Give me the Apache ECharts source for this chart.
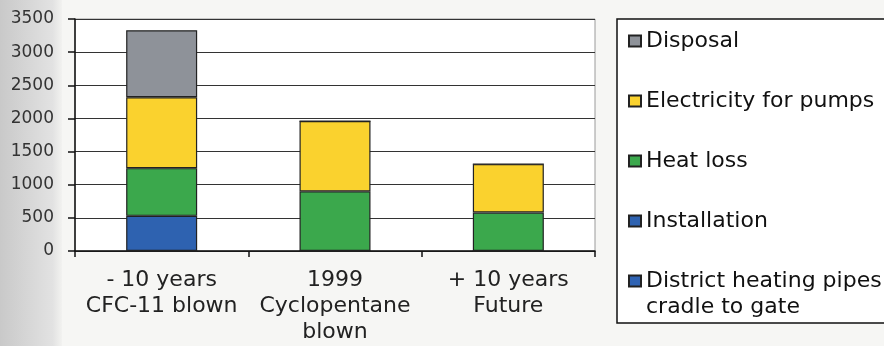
<!DOCTYPE html>
<html>
<head>
<meta charset="utf-8">
<script src="https://cdn.jsdelivr.net/npm/echarts@6/dist/echarts.min.js"></script>
<style>
  html, body { margin: 0; padding: 0; background: #f6f6f4; }
  #chart { width: 884px; height: 346px; }
</style>
</head>
<body>
<div id="chart"></div>
<script>
// Life-cycle energy of district heating pipes, by period and insulation foam
const categories = ['- 10 years\nCFC-11 blown', '1999\nCyclopentane\nblown', '+ 10 years\nFuture'];

const pipesCradleToGate = [0, 0, 0];
const installation      = [530, 0, 0];
const heatLoss          = [720, 900, 580];
const electricity       = [1070, 1060, 730];
const disposal          = [1010, 0, 0];

const yTicks = { min: 0, max: 3500, step: 500 };

const FONT = 'DejaVu Sans';
const edge = { borderColor: '#222', borderWidth: 1.2 };

function stackSeries(name, data, color) {
  return {
    name: name,
    type: 'bar',
    stack: 'total',
    barWidth: 71,
    data: data,
    itemStyle: Object.assign({ color: color }, edge)
  };
}

// Two-line legend names: the first line sits beside the icon, the rest hangs below it.
function legendLabel(name) {
  const lines = name.split('\n');
  if (lines.length === 1) return name;
  return '{first|' + lines[0] + '}' + lines.slice(1).map(function (l) { return '\n{hang|' + l + '}'; }).join('');
}

const chart = echarts.init(document.getElementById('chart'), null, { renderer: 'canvas' });

chart.setOption({
  animation: false,
  backgroundColor: '#f6f6f4',
  graphic: [
    {
      type: 'rect',
      z: -10,
      shape: { x: 0, y: 0, width: 62, height: 346 },
      style: {
        fill: new echarts.graphic.LinearGradient(0, 0, 1, 0, [
          { offset: 0, color: '#c9c9c9' },
          { offset: 0.85, color: '#e2e2e2' },
          { offset: 1, color: '#f2f2f0' }
        ])
      }
    }
  ],
  grid: {
    left: 75, right: 289, top: 19, bottom: 95,
    show: true,
    backgroundColor: '#ffffff',
    borderColor: '#9a9a9a',
    borderWidth: 1
  },
  legend: {
    orient: 'vertical',
    left: 617, top: 19,
    height: 320,
    padding: [9, 40, 5, 11],
    itemGap: 34,
    itemWidth: 12, itemHeight: 11,
    backgroundColor: '#ffffff',
    borderColor: '#111',
    borderWidth: 1.5,
    borderRadius: 0,
    icon: 'rect',
    formatter: legendLabel,
    textStyle: {
      fontFamily: FONT, fontSize: 22, lineHeight: 26, color: '#111',
      rich: {
        first: { fontFamily: FONT, fontSize: 22, lineHeight: 26, color: '#111' },
        hang: { fontFamily: FONT, fontSize: 22, lineHeight: 0, height: 26, verticalAlign: 'top', color: '#111' }
      }
    },
    data: [
      'Disposal',
      'Electricity for pumps',
      'Heat loss',
      'Installation',
      'District heating pipes\ncradle to gate'
    ]
  },
  xAxis: {
    type: 'category',
    data: categories,
    axisLine: { lineStyle: { color: '#111', width: 1.5 } },
    axisTick: { show: true, alignWithLabel: false, length: 6, lineStyle: { color: '#111', width: 1.5 } },
    axisLabel: {
      fontFamily: FONT, fontSize: 22, color: '#222',
      lineHeight: 26, margin: 16, interval: 0
    }
  },
  yAxis: {
    type: 'value',
    min: yTicks.min, max: yTicks.max, interval: yTicks.step,
    axisLine: { show: true, lineStyle: { color: '#111', width: 1.5 } },
    axisTick: { show: true, length: 7, lineStyle: { color: '#111', width: 1.5 } },
    axisLabel: {
      fontFamily: FONT, fontSize: 17, color: '#333', margin: 21,
      formatter: function (v) { return String(v); }
    },
    splitLine: { lineStyle: { color: '#333', width: 1.2 } }
  },
  series: [
    stackSeries('District heating pipes\ncradle to gate', pipesCradleToGate, '#2f63b3'),
    stackSeries('Installation', installation, '#2e62b0'),
    stackSeries('Heat loss', heatLoss, '#3ba84c'),
    stackSeries('Electricity for pumps', electricity, '#fad22e'),
    stackSeries('Disposal', disposal, '#8e9299')
  ]
});
</script>
</body>
</html>
